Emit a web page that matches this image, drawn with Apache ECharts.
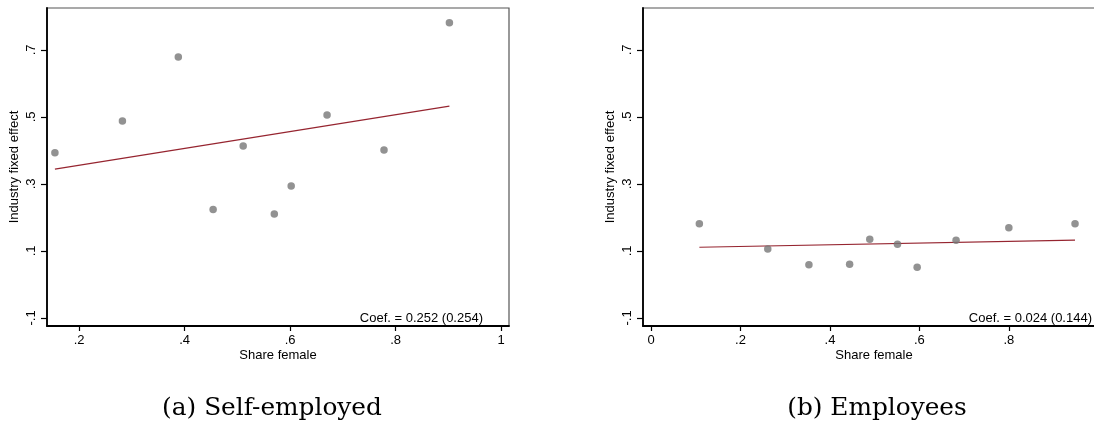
<!DOCTYPE html>
<html><head><meta charset="utf-8">
<script src="https://cdn.jsdelivr.net/npm/echarts@6/dist/echarts.min.js"></script>
<style>html,body{margin:0;padding:0;background:#fff;overflow:hidden;width:1094px;height:427px}#c{width:1112px;height:427px}</style>
</head><body><div id="c"></div>
<script>
// Panel (a) Self-employed
const selfX = [0.154, 0.282, 0.388, 0.454, 0.511, 0.570, 0.602, 0.670, 0.778, 0.902];
const selfY = [0.393, 0.488, 0.679, 0.224, 0.413, 0.210, 0.294, 0.506, 0.401, 0.781];
const selfFitX = [0.154, 0.902];
const selfFitY = [0.344, 0.532];
const selfXTicks = [0.2, 0.4, 0.6, 0.8, 1];
// Panel (b) Employees
const empX = [0.108, 0.261, 0.353, 0.444, 0.489, 0.551, 0.595, 0.682, 0.800, 0.948];
const empY = [0.181, 0.106, 0.059, 0.060, 0.135, 0.120, 0.051, 0.132, 0.169, 0.181];
const empFitX = [0.108, 0.948];
const empFitY = [0.111, 0.132];
const empXTicks = [0, 0.2, 0.4, 0.6, 0.8, 1];
const yTicks = [-0.1, 0.1, 0.3, 0.5, 0.7];
const captions = ['(a) Self-employed', '(b) Employees'];
const coefTexts = ['Coef. = 0.252 (0.254)', 'Coef. = 0.024 (0.144)'];
const xTitle = 'Share female';
const yTitle = 'Industry fixed effect';

const fmt = v => {
  if (Math.abs(v) < 1e-9) return '0';
  let s = String(Math.round(v * 100) / 100);
  return s.replace(/^0\./, '.').replace(/^-0\./, '-.');
};
const zip = (a, b) => a.map((v, i) => [v, b[i]]);
const FONT = 'Liberation Sans, Arial, sans-serif';
const dotColor = '#777777';
const lineColor = '#962530';

function xAxis(idx, min, max, ticks) {
  return {
    type: 'value', gridIndex: idx, min: min, max: max,
    splitLine: { show: false },
    axisLine: { show: true, onZero: false, lineStyle: { color: '#000', width: 1.8 } },
    axisTick: { show: true, length: 5, customValues: ticks, lineStyle: { color: '#000', width: 1.2 } },
    axisLabel: { customValues: ticks, formatter: fmt, color: '#000', fontFamily: FONT, fontSize: 13, margin: 8 },
    name: xTitle, nameLocation: 'middle', nameGap: 23, nameMoveOverlap: false,
    nameTextStyle: { color: '#000', fontFamily: FONT, fontSize: 13 }
  };
}
function yAxis(idx) {
  return {
    type: 'value', gridIndex: idx, min: -0.124, max: 0.825,
    splitLine: { show: false },
    axisLine: { show: true, onZero: false, lineStyle: { color: '#000', width: 1.8 } },
    axisTick: { show: true, length: 6, customValues: yTicks, lineStyle: { color: '#000', width: 1.2 } },
    axisLabel: { customValues: yTicks, formatter: fmt, rotate: 90, color: '#000', fontFamily: FONT, fontSize: 13, margin: 9 },
    name: yTitle, nameLocation: 'middle', nameGap: 26, nameRotate: 90,
    nameTextStyle: { color: '#000', fontFamily: FONT, fontSize: 13 }
  };
}

const chart = echarts.init(document.getElementById('c'), null, { renderer: 'canvas' });
chart.setOption({
  backgroundColor: '#fff',
  animation: false,
  grid: [
    { left: 47, top: 8, width: 462, height: 318, show: true, borderColor: '#555', borderWidth: 1.2, backgroundColor: '#fff' },
    { left: 643, top: 8, width: 462, height: 318, show: true, borderColor: '#555', borderWidth: 1.2, backgroundColor: '#fff' }
  ],
  xAxis: [xAxis(0, 0.139, 1.015, selfXTicks), xAxis(1, -0.018, 1.015, empXTicks)],
  yAxis: [yAxis(0), yAxis(1)],
  series: [
    { type: 'line', xAxisIndex: 0, yAxisIndex: 0, data: zip(selfFitX, selfFitY), symbol: 'none', lineStyle: { color: lineColor, width: 1.2 }, z: 2 },
    { type: 'scatter', xAxisIndex: 0, yAxisIndex: 0, data: zip(selfX, selfY), symbolSize: 7.5, itemStyle: { color: dotColor }, z: 3 },
    { type: 'line', xAxisIndex: 1, yAxisIndex: 1, data: zip(empFitX, empFitY), symbol: 'none', lineStyle: { color: lineColor, width: 1.2 }, z: 2 },
    { type: 'scatter', xAxisIndex: 1, yAxisIndex: 1, data: zip(empX, empY), symbolSize: 7.5, itemStyle: { color: dotColor }, z: 3 }
  ],
  graphic: [
    { type: 'text', x: 483, y: 318, style: { text: coefTexts[0], fill: '#000', font: '13px ' + FONT, align: 'right', verticalAlign: 'middle' } },
    { type: 'text', x: 1092, y: 318, style: { text: coefTexts[1], fill: '#000', font: '13px ' + FONT, align: 'right', verticalAlign: 'middle' } },
    { type: 'text', x: 272, y: 409, style: { text: captions[0], fill: '#000', font: '24.8px "DejaVu Serif", serif', align: 'center', verticalAlign: 'middle' } },
    { type: 'text', x: 877, y: 409, style: { text: captions[1], fill: '#000', font: '24.8px "DejaVu Serif", serif', align: 'center', verticalAlign: 'middle' } }
  ]
});
</script>
</body></html>
